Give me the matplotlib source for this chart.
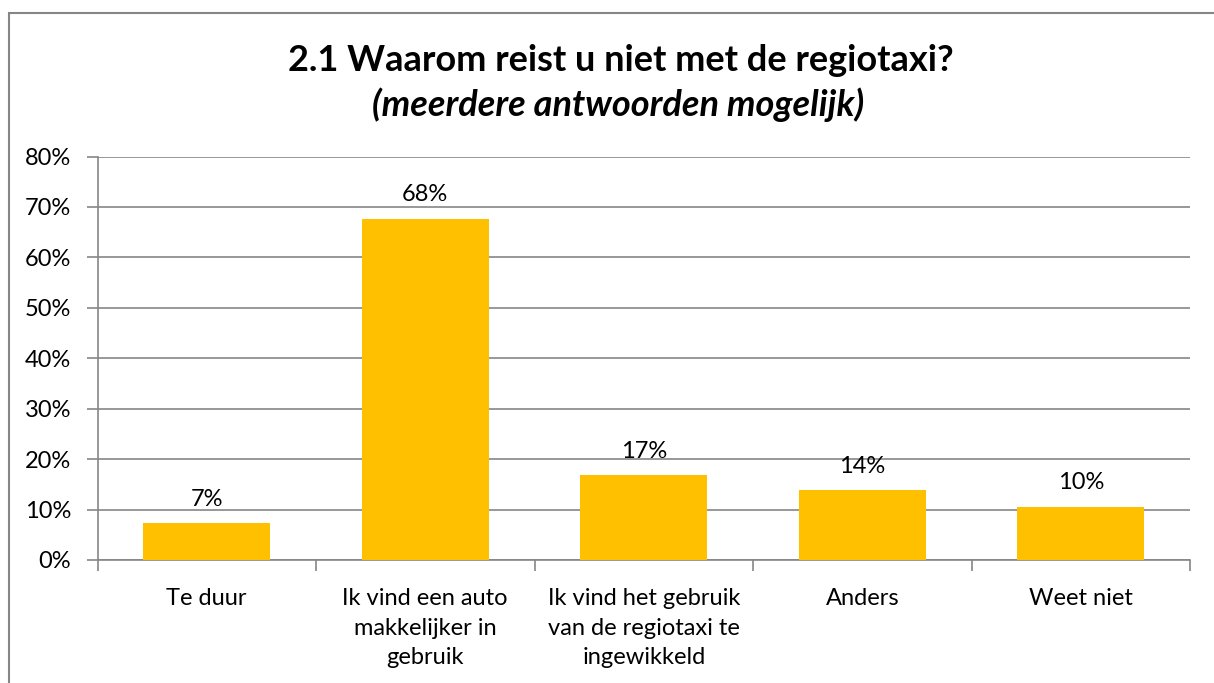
import matplotlib.pyplot as plt
from matplotlib.patches import Rectangle

categories = ["Te duur", "Ik vind een auto\nmakkelijker in\ngebruik",
              "Ik vind het gebruik\nvan de regiotaxi te\ningewikkeld", "Anders", "Weet niet"]
values = [7.3, 67.7, 16.8, 13.8, 10.6]
labels = ["7%", "68%", "17%", "14%", "10%"]
yticks = [0, 10, 20, 30, 40, 50, 60, 70, 80]

plt.rcParams['font.family'] = ['Lato', 'DejaVu Sans']
grey = "#868686"

fig = plt.figure(figsize=(12.14, 6.83), dpi=100)
# chart frame
fig.patches.append(Rectangle((9 / 1214, -0.1), 1.2, (683 - 13) / 683 + 0.1,
                             transform=fig.transFigure, fill=False,
                             edgecolor=grey, linewidth=1.5))

ax = fig.add_axes([97.5 / 1214, 123 / 683, (1190 - 97.5) / 1214, (560 - 156.5) / 683])
x = range(len(categories))
bars = ax.bar(x, values, width=0.58, color="#FFC000", zorder=3)
for b, lab in zip(bars, labels):
    ax.text(b.get_x() + b.get_width() / 2, b.get_height() + 2.7, lab,
            ha="center", va="bottom", fontsize=17)

ax.set_xlim(-0.5, len(categories) - 0.5)
ax.set_ylim(0, 80)
ax.set_yticks(yticks)
ax.set_yticklabels([f"{t}%" for t in yticks], fontsize=17)
ax.yaxis.grid(True, color=grey, linewidth=1.2, zorder=0)
ax.set_xticks(list(x))
ax.set_xticklabels(categories, fontsize=17, linespacing=1.52, va="top")
ax.set_xticks([i - 0.5 for i in range(len(categories) + 1)], minor=True)
ax.tick_params(axis="x", which="major", length=0, pad=20)
ax.tick_params(axis="x", which="minor", length=8, color=grey, width=1.2)
ax.tick_params(axis="y", length=8, color=grey, width=1.2, pad=11)
for s in ["top", "right"]:
    ax.spines[s].set_visible(False)
for s in ["left", "bottom"]:
    ax.spines[s].set_color(grey)
    ax.spines[s].set_linewidth(1.2)

fig.text(0.511, 0.912, "2.1 Waarom reist u niet met de regiotaxi?", ha="center",
         va="center", fontsize=26, fontweight="bold")
fig.text(0.509, 0.846, "(meerdere antwoorden mogelijk)", ha="center",
         va="center", fontsize=26, fontweight="bold", style="italic")

fig.savefig("out.png", dpi=100)
